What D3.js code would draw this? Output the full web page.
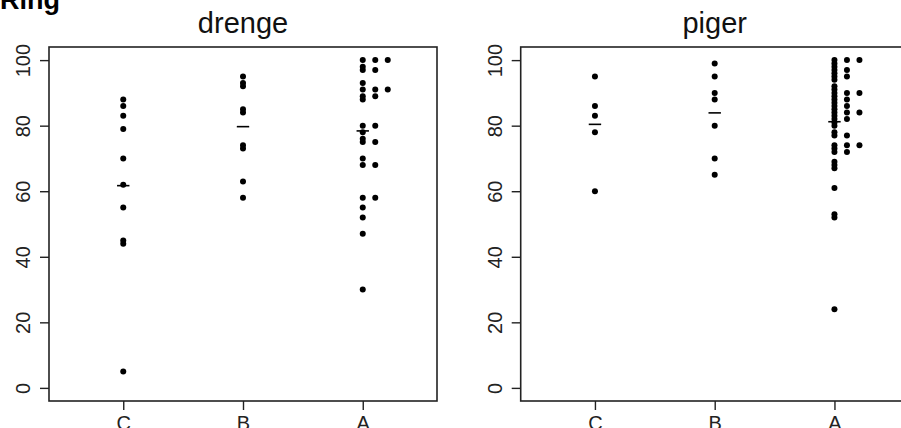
<!DOCTYPE html>
<html>
<head>
<meta charset="utf-8">
<script src="https://cdn.jsdelivr.net/npm/d3@7"></script>
<style>
  html, body { margin: 0; padding: 0; background: #fff; }
  svg { display: block; font-family: "Liberation Sans", Arial, Helvetica, sans-serif; }
</style>
</head>
<body>
<svg id="chart" width="901" height="428"></svg>
<script>
// ---- data ----
const groups = ["C", "B", "A"];
const yTicks = [0, 20, 40, 60, 80, 100];
const panelTitles = ["drenge", "piger"];
const mainTitle = "Ring";

const drengeC = [88, 86, 83, 79, 70, 62, 55, 45, 44, 5];
const drengeB = [95, 93, 92, 85, 84, 74, 73, 63, 58];
const drengeA = [100, 100, 100, 98, 97, 97, 93, 91, 91, 91, 89, 89, 88,
                 80, 80, 78, 76, 75, 75, 70, 68, 68, 58, 58, 55, 52, 47, 30];
const drengeMeans = [61.7, 79.7, 78.4];

const pigerC = [95, 86, 83, 78, 60];
const pigerB = [99, 95, 90, 88, 80, 70, 65];
const pigerA = [100, 100, 100, 99, 98, 97, 97, 96, 95, 95, 94, 92, 91,
                90, 90, 90, 89, 88, 88, 87, 86, 86, 85, 84, 84, 84, 83,
                82, 82, 81, 80, 78, 77, 77, 74, 74, 74, 73, 72, 72,
                69, 68, 67, 61, 53, 52, 24];
const pigerMeans = [80.4, 83.9, 81.2];

const panels = [
  { title: panelTitles[0], series: [drengeC, drengeB, drengeA], means: drengeMeans, left: 49 },
  { title: panelTitles[1], series: [pigerC, pigerB, pigerA], means: pigerMeans, left: 520.7 }
];

// ---- layout ----
const boxW = 388, boxTop = 47, boxBottom = 401;
const stackStep = 12.5;
const svg = d3.select("#chart");
const font = '"Liberation Sans", Arial, Helvetica, sans-serif';

svg.append("text")
  .attr("x", 0).attr("y", 9)
  .attr("font-size", 27).attr("font-weight", "bold")
  .attr("fill", "#000")
  .text(mainTitle);

const y = d3.scaleLinear().domain([-4, 104]).range([boxBottom, boxTop]);

panels.forEach(p => {
  const x = d3.scalePoint().domain(groups).range([p.left, p.left + boxW]).padding(0.62);
  const g = svg.append("g");

  // title
  g.append("text")
    .attr("x", p.left + boxW / 2).attr("y", 33)
    .attr("text-anchor", "middle")
    .attr("font-size", 29).attr("fill", "#111")
    .text(p.title);

  // points (stacked for equal values)
  groups.forEach((grp, i) => {
    const counts = new Map();
    const pts = p.series[i].map(v => {
      const k = counts.get(v) || 0;
      counts.set(v, k + 1);
      return { v, k };
    });
    g.selectAll(null).data(pts).enter().append("circle")
      .attr("cx", d => x(grp) + d.k * stackStep)
      .attr("cy", d => y(d.v))
      .attr("r", 3)
      .attr("fill", "#000");

    // mean marker
    g.append("line")
      .attr("x1", x(grp) - 6.2).attr("x2", x(grp) + 6.2)
      .attr("y1", y(p.means[i])).attr("y2", y(p.means[i]))
      .attr("stroke", "#000").attr("stroke-width", 1.6);
  });

  // y axis
  const ya = g.append("g")
    .attr("transform", `translate(${p.left},0)`)
    .call(d3.axisLeft(y).tickValues(yTicks).tickSize(9).tickSizeOuter(0));
  ya.select(".domain").remove();
  ya.selectAll(".tick line").attr("stroke", "#222").attr("stroke-width", 1.4);
  ya.selectAll(".tick text")
    .attr("transform", "rotate(-90)")
    .attr("x", 0).attr("y", -19).attr("dy", 0)
    .attr("text-anchor", "middle")
    .attr("font-size", 20).attr("font-family", font).attr("fill", "#222");

  // x axis
  const xa = g.append("g")
    .attr("transform", `translate(0,${boxBottom})`)
    .call(d3.axisBottom(x).tickSize(9).tickSizeOuter(0));
  xa.select(".domain").remove();
  xa.selectAll(".tick line").attr("stroke", "#222").attr("stroke-width", 1.4);
  xa.selectAll(".tick text")
    .attr("y", 28.5).attr("dy", 0)
    .attr("font-size", 20).attr("font-family", font).attr("fill", "#222");

  // box
  g.append("rect")
    .attr("x", p.left).attr("y", boxTop)
    .attr("width", boxW).attr("height", boxBottom - boxTop)
    .attr("fill", "none").attr("stroke", "#222").attr("stroke-width", 1.6);
});
</script>
</body>
</html>
